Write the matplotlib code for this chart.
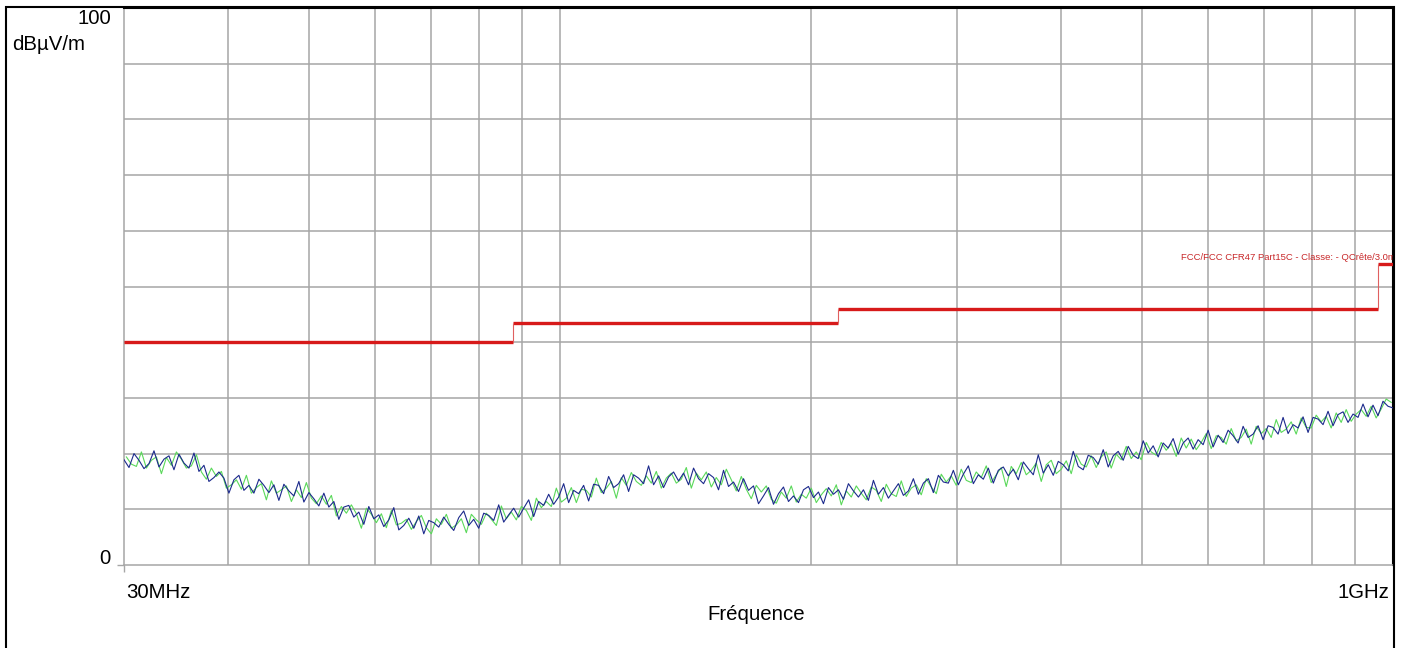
import numpy as np
import matplotlib
matplotlib.use("Agg")
import matplotlib.pyplot as plt
from matplotlib.patches import Rectangle

plt.rcParams["font.family"] = ["Liberation Sans", "DejaVu Sans"]

# limit line FCC Part 15 class B, 3 m (MHz, dBuV/m)
limit_edges = [30, 88, 216, 960, 1000]
limit_levels = [40, 43.5, 46, 54]
limit_label = "FCC/FCC CFR47 Part15C - Classe: - QCrête/3.0m"

trace_blue = [
    18.9, 17.5, 20.0, 18.8, 17.3, 18.2, 20.5, 17.6, 19.0, 19.6, 17.1, 19.9, 18.3, 17.4, 20.1, 16.8,
    17.9, 15.0, 15.7, 16.7, 15.6, 12.9, 15.3, 16.1, 13.4, 14.3, 12.9, 15.4, 14.3, 13.0, 14.4, 11.6,
    14.5, 13.3, 12.4, 15.0, 11.3, 13.0, 11.9, 10.6, 12.9, 10.4, 11.4, 8.2, 10.4, 10.7, 8.6, 9.5,
    7.3, 10.5, 8.3, 9.0, 6.9, 8.1, 10.3, 6.3, 7.1, 8.4, 6.6, 8.8, 5.6, 8.0, 7.6, 6.8,
    8.6, 7.3, 6.2, 8.5, 9.7, 7.1, 8.2, 6.6, 9.3, 8.9, 8.0, 10.8, 7.7, 9.0, 10.2, 8.6,
    10.2, 11.7, 8.7, 11.4, 10.7, 12.7, 10.9, 12.2, 14.6, 11.2, 13.4, 12.8, 14.3, 11.5, 14.5, 14.3,
    12.8, 15.9, 13.9, 14.6, 16.2, 13.2, 16.2, 15.6, 14.6, 17.8, 14.4, 16.0, 13.9, 15.8, 16.7, 15.1,
    16.5, 14.4, 17.4, 15.5, 14.6, 16.4, 15.7, 13.5, 17.0, 14.1, 14.9, 13.2, 15.5, 13.4, 14.2, 11.0,
    12.4, 13.9, 10.9, 12.8, 14.0, 11.4, 12.4, 11.2, 13.5, 14.1, 12.1, 13.1, 11.0, 13.9, 12.7, 13.5,
    11.8, 14.6, 13.3, 12.2, 13.5, 11.6, 15.2, 12.7, 13.9, 12.0, 13.3, 14.6, 12.5, 13.3, 15.5, 12.7,
    14.7, 15.5, 13.0, 16.1, 14.9, 14.7, 17.0, 14.4, 16.3, 17.8, 14.6, 16.2, 15.4, 17.4, 14.7, 17.0,
    17.6, 16.0, 17.2, 15.3, 18.5, 17.3, 16.2, 19.8, 16.5, 18.0, 16.1, 18.6, 18.0, 16.9, 20.4, 17.7,
    17.1, 19.7, 19.3, 18.1, 20.7, 17.6, 19.6, 20.4, 18.8, 21.3, 19.7, 19.1, 22.3, 20.1, 21.4, 19.4,
    21.9, 21.0, 22.7, 19.9, 21.9, 22.8, 20.8, 22.5, 21.6, 24.2, 21.2, 23.3, 22.0, 24.2, 23.2, 21.9,
    24.9, 22.9, 23.5, 25.0, 22.5, 25.0, 24.7, 23.5, 26.5, 23.6, 25.2, 24.6, 26.6, 23.8, 26.5, 26.2,
    25.2, 27.6, 25.0, 27.0, 27.5, 25.6, 27.1, 26.5, 28.9, 26.6, 28.7, 26.8, 29.4, 28.5, 28.2,
]

trace_green = [
    19.4, 18.1, 17.7, 20.3, 17.4, 18.8, 19.4, 16.4, 19.3, 17.9, 20.3, 19.0, 17.4, 17.8, 19.8, 16.7,
    15.4, 17.4, 15.9, 16.8, 13.8, 14.4, 15.3, 13.6, 16.1, 12.9, 13.9, 14.6, 11.7, 15.1, 12.9, 13.5,
    14.2, 11.4, 13.5, 12.1, 14.8, 12.0, 11.0, 12.4, 10.9, 12.5, 8.8, 10.5, 9.3, 10.8, 9.2, 6.6,
    10.2, 9.1, 7.6, 9.2, 6.7, 9.8, 7.2, 7.5, 8.2, 6.4, 7.8, 8.9, 6.7, 5.6, 8.3, 7.3,
    9.1, 6.6, 7.2, 8.3, 5.8, 9.1, 8.1, 7.3, 9.3, 8.2, 7.1, 10.6, 8.3, 9.5, 8.1, 10.5,
    9.8, 8.0, 12.0, 10.3, 11.4, 10.5, 13.8, 11.3, 12.0, 13.9, 11.2, 13.6, 13.4, 12.2, 15.6, 13.0,
    13.8, 15.0, 12.0, 15.7, 14.3, 16.6, 15.0, 14.3, 16.0, 14.7, 16.8, 13.8, 15.6, 16.5, 14.7, 15.4,
    17.5, 13.8, 16.5, 15.3, 16.7, 14.0, 15.7, 14.4, 17.2, 15.3, 13.3, 15.9, 13.6, 11.9, 14.3, 13.1,
    14.2, 11.8, 11.1, 13.1, 12.0, 14.2, 11.3, 12.7, 12.0, 13.8, 11.2, 12.6, 13.7, 12.4, 14.4, 10.8,
    13.3, 12.2, 14.2, 12.9, 11.7, 14.0, 13.4, 11.4, 14.5, 12.8, 12.3, 15.1, 12.3, 13.8, 14.4, 12.6,
    15.5, 14.0, 12.8, 16.3, 14.9, 16.0, 14.3, 17.2, 15.2, 14.8, 16.7, 15.7, 17.8, 14.8, 16.2, 17.5,
    14.1, 17.7, 16.4, 18.4, 16.2, 17.0, 18.3, 15.0, 18.0, 18.8, 16.4, 17.2, 18.7, 16.4, 19.8, 18.1,
    17.6, 19.6, 17.5, 19.4, 20.3, 17.4, 19.9, 18.9, 21.3, 19.1, 20.3, 18.9, 22.0, 20.3, 19.7, 22.0,
    20.6, 21.8, 19.5, 22.8, 21.0, 22.6, 20.7, 22.0, 23.6, 20.9, 23.2, 22.9, 21.7, 24.5, 22.3, 22.9,
    24.4, 21.7, 24.9, 23.6, 24.5, 22.9, 26.1, 23.8, 24.4, 25.7, 23.5, 26.4, 24.7, 24.6, 26.9, 25.7,
    26.7, 24.6, 27.3, 25.6, 27.9, 25.8, 27.1, 27.9, 26.7, 28.5, 26.4, 28.0, 29.8, 29.2,
]

grid_freqs = [40, 50, 60, 70, 80, 90, 100, 200, 300, 400, 500, 600, 700, 800, 900]
grid_levels = [10, 20, 30, 40, 50, 60, 70, 80, 90]

# sweep frequency points
f_blue = np.geomspace(30, 1000, len(trace_blue))
f_green = np.geomspace(30.2, 995, len(trace_green))

fig = plt.figure(figsize=(14.03, 6.48), dpi=100)
ax = fig.add_axes([124 / 1403, 1 - 565 / 648, (1393 - 124) / 1403, (565 - 8) / 648])
ax.set_xscale("log")
ax.set_xlim(30, 1000)
ax.set_ylim(0, 100)

grid_col = "#a6a6a6"
for f in grid_freqs:
    ax.axvline(f, color=grid_col, lw=1.1, zorder=1)
for lv in grid_levels:
    ax.axhline(lv, color=grid_col, lw=1.1, zorder=1)

ax.plot(f_green, trace_green, color="#5ad85a", lw=0.8, zorder=2)
ax.plot(f_blue, trace_blue, color="#1c2a8c", lw=0.8, zorder=3)

# limit: thick horizontal parts, thin risers
ax.hlines(limit_levels, limit_edges[:-1], limit_edges[1:], color="#d71a1a", lw=2.4, zorder=4)
ax.vlines(limit_edges[1:-1], limit_levels[:-1], limit_levels[1:], color="#e06060", lw=0.8, zorder=4)
ax.text(556, 55.2, limit_label, color="#c8282a", fontsize=6.8, va="center", ha="left",
        clip_on=True, zorder=5)

ax.set_xticks([30])
ax.set_yticks([0])
ax.xaxis.set_minor_locator(plt.NullLocator())
ax.set_xticklabels([""])
ax.set_yticklabels([""])
ax.tick_params(length=5, color=grid_col, width=1)
for s in ["left", "bottom"]:
    ax.spines[s].set_color(grid_col)
    ax.spines[s].set_linewidth(1.1)
for s in ["top", "right"]:
    ax.spines[s].set_color("black")
    ax.spines[s].set_linewidth(1.5)

# axis texts
fs = 14.7
fig.text(111 / 1403, 1 - 18 / 648, "100", fontsize=fs, ha="right", va="center")
fig.text(12 / 1403, 1 - 45 / 648, "dBµV/m", fontsize=fs, ha="left", va="center")
fig.text(111 / 1403, 1 - 558 / 648, "0", fontsize=fs, ha="right", va="center")
fig.text(126 / 1403, 1 - 592 / 648, "30MHz", fontsize=fs, ha="left", va="center")
fig.text(1389 / 1403, 1 - 592 / 648, "1GHz", fontsize=fs, ha="right", va="center")
fig.text(756 / 1403, 1 - 615 / 648, "Fréquence", fontsize=fs, ha="center", va="center")

# outer frame of the screenshot
fig.patches.append(Rectangle((6 / 1403, -0.01), (1394 - 6) / 1403, (648 - 7) / 648 + 0.01,
                             transform=fig.transFigure, fill=False, edgecolor="black", lw=1.5))

fig.savefig("out.png", dpi=100)
